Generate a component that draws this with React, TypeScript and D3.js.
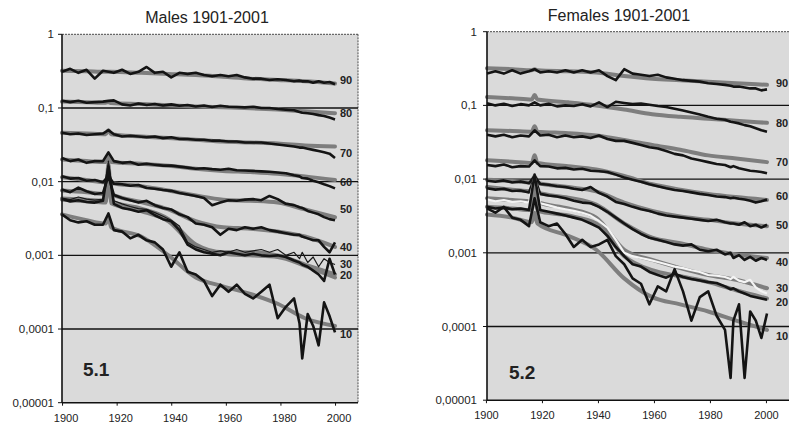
import React from "react";
import * as d3 from "d3";

// ---------- data ----------
const obsYears = [
  1901, 1904, 1907, 1910, 1913, 1916, 1918, 1920, 1923, 1926,
  1929, 1932, 1935, 1938, 1941, 1944, 1947, 1950, 1953, 1956,
  1959, 1962, 1965, 1968, 1971, 1974, 1977, 1980, 1983, 1986,
  1988, 1989, 1991, 1993, 1995, 1997, 1999, 2001,
];
const fitYears = [1901, 1910, 1917, 1918, 1919, 1930, 1940, 1950, 1960, 1970, 1980, 1990, 2001];
const ages = [90, 80, 70, 60, 50, 40, 30, 20, 10];
const yTickValues = [1, 0.1, 0.01, 0.001, 0.0001, 0.00001];
const yTickLabels = ["1", "0,1", "0,01", "0,001", "0,0001", "0,00001"];
const gridValues = [0.1, 0.01, 0.001, 0.0001];
const xTickYears = [1900, 1920, 1940, 1960, 1980, 2000];

// Males observed
const maleObs90 = [
  0.31, 0.34, 0.3, 0.33, 0.25, 0.32, 0.31, 0.3, 0.33, 0.29,
  0.31, 0.36, 0.3, 0.31, 0.26, 0.3, 0.29, 0.3, 0.28, 0.27,
  0.28, 0.27, 0.28, 0.26, 0.25, 0.25, 0.24, 0.245, 0.24, 0.23,
  0.235, 0.23, 0.23, 0.22, 0.23, 0.22, 0.225, 0.21,
];
const maleObs80 = [
  0.125, 0.12, 0.125, 0.118, 0.12, 0.122, 0.125, 0.127, 0.112, 0.108,
  0.115, 0.11, 0.113, 0.108, 0.112, 0.107, 0.11, 0.105, 0.108, 0.103,
  0.107, 0.104, 0.103, 0.102, 0.104, 0.1, 0.1, 0.097, 0.095, 0.093,
  0.088, 0.086, 0.085, 0.083, 0.08, 0.078, 0.074, 0.07,
];
const maleObs70 = [
  0.046, 0.044, 0.045, 0.043, 0.044, 0.045, 0.05, 0.044, 0.041, 0.042,
  0.041, 0.04, 0.041, 0.039, 0.04, 0.038, 0.038, 0.037, 0.037, 0.036,
  0.036, 0.035, 0.035, 0.034, 0.034, 0.034, 0.033, 0.032, 0.031, 0.03,
  0.029, 0.029, 0.028, 0.027, 0.026, 0.025, 0.024, 0.021,
];
const maleObs60 = [
  0.021, 0.019, 0.02, 0.018, 0.019, 0.019, 0.025, 0.019, 0.018, 0.0185,
  0.017, 0.0175, 0.017, 0.0165, 0.0165, 0.016, 0.0155, 0.015, 0.0152, 0.0148,
  0.0145, 0.015, 0.0143, 0.0142, 0.014, 0.0138, 0.0136, 0.0133, 0.013, 0.0122,
  0.0118, 0.0112, 0.011, 0.0103, 0.0098, 0.0092, 0.0087, 0.0081,
];
const maleObs50 = [
  0.0118, 0.011, 0.0112, 0.0103, 0.0105, 0.0098, 0.012, 0.0094, 0.0092, 0.0088,
  0.009, 0.0082, 0.008, 0.0077, 0.0075, 0.007, 0.0067, 0.0064, 0.006, 0.0048,
  0.0052, 0.0056, 0.0055, 0.0057, 0.0058, 0.0056, 0.0064, 0.0058, 0.005, 0.0048,
  0.0045, 0.0044, 0.004, 0.0038, 0.0036, 0.0033, 0.0031, 0.003,
];
const maleObs40 = [
  0.0078, 0.0072, 0.0083, 0.0074, 0.0068, 0.007, 0.012, 0.0066, 0.006, 0.0056,
  0.0052, 0.0055, 0.0048, 0.0044, 0.0042, 0.0036, 0.0033, 0.0027, 0.0026, 0.0024,
  0.0019, 0.0023, 0.0022, 0.0024, 0.0023, 0.0024, 0.0022, 0.0021, 0.002, 0.0019,
  0.0019, 0.0018, 0.0017, 0.0016, 0.0016, 0.0013, 0.0011, 0.0015,
];
const maleObs30 = [
  0.006, 0.0057, 0.0062, 0.0058, 0.0056, 0.0058, 0.019, 0.0055, 0.005, 0.0046,
  0.0043, 0.0042, 0.0038, 0.0034, 0.003, 0.0025, 0.0015, 0.0013, 0.0012, 0.0011,
  0.00115, 0.0011, 0.0012, 0.0011, 0.00115, 0.0012, 0.0011, 0.0012, 0.001, 0.0011,
  0.0009, 0.0011, 0.0008, 0.00095, 0.0007, 0.0009, 0.0008, 0.00075,
];
const maleObs20 = [
  0.0058, 0.0054, 0.0056, 0.0053, 0.0052, 0.0055, 0.016, 0.005, 0.0044, 0.0042,
  0.0039, 0.0041, 0.0035, 0.0031, 0.0029, 0.0022, 0.0014, 0.0012, 0.0011, 0.00105,
  0.001, 0.0011, 0.00105, 0.001, 0.00105, 0.001, 0.00098, 0.001, 0.00095, 0.00085,
  0.0008, 0.00075, 0.0007, 0.00062, 0.00055, 0.00045, 0.0009, 0.00055,
];
const maleObs10 = [
  0.0036, 0.003, 0.0028, 0.0029, 0.0026, 0.0026, 0.0037, 0.0022, 0.0021, 0.0017,
  0.0019, 0.0016, 0.0015, 0.0012, 0.0007, 0.0011, 0.0006, 0.00055, 0.00045, 0.00028,
  0.0004, 0.00032, 0.0004, 0.0003, 0.00026, 0.00032, 0.0004, 0.00014, 0.0002, 0.00026,
  0.00012, 0.00004, 0.00016, 0.00011, 0.00006, 0.00023, 0.00015, 0.00009,
];

// Males fitted
const maleFit90 = [0.32, 0.315, 0.31, 0.31, 0.31, 0.3, 0.29, 0.28, 0.265, 0.25, 0.24, 0.23, 0.215];
const maleFit80 = [0.122, 0.12, 0.118, 0.12, 0.117, 0.113, 0.109, 0.105, 0.102, 0.099, 0.095, 0.09, 0.085];
const maleFit70 = [0.046, 0.045, 0.044, 0.05, 0.044, 0.041, 0.039, 0.037, 0.035, 0.034, 0.033, 0.031, 0.03];
const maleFit60 = [0.02, 0.019, 0.0185, 0.023, 0.0185, 0.0175, 0.0165, 0.015, 0.014, 0.0135, 0.0128, 0.0118, 0.0105];
const maleFit50 = [0.0115, 0.0105, 0.0098, 0.011, 0.0096, 0.0087, 0.0076, 0.0065, 0.0057, 0.0055, 0.0052, 0.0042, 0.0033];
const maleFit40 = [0.0076, 0.0072, 0.0068, 0.011, 0.0068, 0.0053, 0.0042, 0.0029, 0.0024, 0.0023, 0.0021, 0.0018, 0.0013];
const maleFit30 = [0.0059, 0.0057, 0.0055, 0.017, 0.0054, 0.0043, 0.0031, 0.0014, 0.0011, 0.0011, 0.001, 0.00075, 0.00055];
const maleFit20 = [0.0057, 0.0054, 0.0052, 0.015, 0.0051, 0.004, 0.0029, 0.0013, 0.00105, 0.001, 0.00095, 0.00072, 0.0005];
const maleFit10 = [0.0036, 0.003, 0.0027, 0.0033, 0.0024, 0.0018, 0.001, 0.0005, 0.00038, 0.0003, 0.00022, 0.00014, 0.00011];

// Females observed
const femaleObs90 = [
  0.27, 0.29, 0.27, 0.3, 0.27, 0.29, 0.31, 0.28, 0.29, 0.28,
  0.3, 0.28, 0.3, 0.28, 0.3, 0.25, 0.22, 0.31, 0.27, 0.26,
  0.25, 0.26, 0.24, 0.23, 0.22, 0.215, 0.21, 0.2, 0.195, 0.19,
  0.185, 0.18, 0.18, 0.175, 0.17, 0.17, 0.16, 0.165,
];
const femaleObs80 = [
  0.107, 0.1, 0.105, 0.098, 0.104, 0.1, 0.11, 0.1, 0.105, 0.097,
  0.1, 0.098, 0.104, 0.097, 0.11, 0.095, 0.112, 0.108, 0.104, 0.106,
  0.102, 0.098, 0.095, 0.09, 0.085, 0.08, 0.075, 0.07, 0.066, 0.064,
  0.06, 0.059, 0.057, 0.054, 0.052, 0.049, 0.046, 0.044,
];
const femaleObs70 = [
  0.04, 0.038, 0.04, 0.037, 0.039, 0.038, 0.046, 0.039, 0.04, 0.037,
  0.039, 0.037, 0.038, 0.036, 0.039, 0.035, 0.033, 0.033, 0.031, 0.029,
  0.027, 0.026, 0.024, 0.022, 0.021, 0.019, 0.018, 0.017, 0.016, 0.0155,
  0.0145, 0.015, 0.014, 0.0135, 0.013, 0.0128, 0.0125, 0.012,
];
const femaleObs60 = [
  0.0155, 0.015, 0.0158, 0.0145, 0.015, 0.0148, 0.018, 0.015, 0.0148, 0.014,
  0.0142, 0.0135, 0.0138, 0.013, 0.0128, 0.0125, 0.0115, 0.0105, 0.0098, 0.0092,
  0.0085, 0.008, 0.0075, 0.0071, 0.0069, 0.0066, 0.0063, 0.0061, 0.0058, 0.0057,
  0.0055, 0.0056, 0.0054, 0.0053, 0.0051, 0.0048, 0.005, 0.0053,
];
const femaleObs50 = [
  0.0095, 0.0092, 0.0096, 0.009, 0.0093, 0.0088, 0.011, 0.0086, 0.0084, 0.008,
  0.0078, 0.0074, 0.0071, 0.0078, 0.0065, 0.0058, 0.0049, 0.0046, 0.0042, 0.0039,
  0.0037, 0.0034, 0.0032, 0.0031, 0.003, 0.0029, 0.0028, 0.0027, 0.0028, 0.0026,
  0.0025, 0.0025, 0.0024, 0.0026, 0.0023, 0.0024, 0.0022, 0.0024,
];
const femaleObs40 = [
  0.0075, 0.0072, 0.0074, 0.0069, 0.007, 0.0066, 0.0105, 0.0063, 0.006, 0.0058,
  0.0055, 0.0051, 0.0048, 0.0047, 0.0042, 0.0036, 0.003, 0.0025, 0.0021, 0.0018,
  0.0016, 0.0015, 0.0014, 0.0013, 0.00125, 0.0013, 0.0011, 0.00105, 0.0011, 0.00095,
  0.001, 0.00085, 0.00093, 0.0008, 0.00088, 0.00078, 0.00085, 0.0008,
];
const femaleObs30 = [
  0.0053, 0.005, 0.0052, 0.0049, 0.005, 0.0048, 0.011, 0.0047, 0.0044, 0.0041,
  0.0039, 0.0037, 0.0035, 0.0032, 0.0027, 0.0022, 0.0015, 0.001, 0.0009, 0.00085,
  0.0008, 0.00075, 0.0007, 0.00065, 0.00062, 0.00058, 0.00055, 0.0005, 0.00049, 0.00047,
  0.00044, 0.00047, 0.00042, 0.0004, 0.00043, 0.00034, 0.0003, 0.00028,
];
const femaleObs20 = [
  0.0042, 0.004, 0.0041, 0.0039, 0.004, 0.0038, 0.0115, 0.0038, 0.0036, 0.0034,
  0.0032, 0.003, 0.0028, 0.0025, 0.0022, 0.0017, 0.0012, 0.0009, 0.0007, 0.00065,
  0.00055, 0.0005, 0.00046, 0.00052, 0.00047, 0.00044, 0.00042, 0.0004, 0.00039, 0.00035,
  0.00032, 0.00033, 0.0003, 0.00028, 0.00026, 0.00025, 0.00024, 0.00023,
];
const femaleObs10 = [
  0.004, 0.0035, 0.0042, 0.003, 0.0028, 0.0023, 0.0055, 0.0026, 0.0023, 0.0025,
  0.0018, 0.0012, 0.0015, 0.0012, 0.0013, 0.0015, 0.0009, 0.0007, 0.00045, 0.00038,
  0.0002, 0.00035, 0.0003, 0.0006, 0.0003, 0.00012, 0.00025, 0.0003, 0.00014, 0.00009,
  0.00002, 0.00012, 0.0002, 0.00002, 0.00016, 0.00012, 0.00007, 0.00015,
];

// Females fitted
const femaleFit90 = [0.32, 0.31, 0.3, 0.31, 0.3, 0.29, 0.28, 0.25, 0.23, 0.22, 0.21, 0.2, 0.19];
const femaleFit80 = [0.13, 0.125, 0.12, 0.138, 0.12, 0.11, 0.1, 0.088, 0.076, 0.07, 0.066, 0.062, 0.058];
const femaleFit70 = [0.046, 0.045, 0.044, 0.052, 0.044, 0.042, 0.039, 0.034, 0.029, 0.025, 0.021, 0.019, 0.017];
const femaleFit60 = [0.018, 0.0172, 0.0165, 0.021, 0.0165, 0.015, 0.0135, 0.011, 0.0085, 0.0072, 0.0063, 0.0057, 0.0052];
const femaleFit50 = [0.0098, 0.0094, 0.009, 0.011, 0.0089, 0.0078, 0.0068, 0.0048, 0.0037, 0.0031, 0.0028, 0.0025, 0.0023];
const femaleFit40 = [0.0078, 0.0072, 0.0068, 0.0095, 0.0066, 0.0056, 0.0045, 0.0025, 0.0016, 0.00135, 0.0011, 0.00095, 0.00085];
const femaleFit30 = [0.0055, 0.0052, 0.005, 0.009, 0.0049, 0.004, 0.003, 0.0011, 0.0008, 0.00062, 0.0005, 0.00043, 0.00033];
const femaleFit20 = [0.0042, 0.004, 0.0038, 0.0075, 0.0037, 0.0032, 0.0025, 0.0009, 0.00058, 0.00048, 0.0004, 0.00031, 0.00024];
const femaleFit10 = [0.0033, 0.003, 0.0026, 0.0035, 0.0025, 0.0017, 0.0011, 0.00045, 0.00025, 0.0002, 0.00016, 0.00012, 0.00009];

const maleObs = [maleObs90, maleObs80, maleObs70, maleObs60, maleObs50, maleObs40, maleObs30, maleObs20, maleObs10];
const maleFit = [maleFit90, maleFit80, maleFit70, maleFit60, maleFit50, maleFit40, maleFit30, maleFit20, maleFit10];
const femaleObs = [femaleObs90, femaleObs80, femaleObs70, femaleObs60, femaleObs50, femaleObs40, femaleObs30, femaleObs20, femaleObs10];
const femaleFit = [femaleFit90, femaleFit80, femaleFit70, femaleFit60, femaleFit50, femaleFit40, femaleFit30, femaleFit20, femaleFit10];

// ---------- layout / style ----------
const FONT = "'Liberation Sans', Arial, Helvetica, sans-serif";

type PanelCfg = {
  title: string;
  titleX: number;
  titleY: number;
  tag: string;
  tagX: number;
  tagY: number;
  xRange: [number, number];
  plotLeft: number;
  plotRight: number;
  yTop: number;
  yBottom: number;
  tickLabelX: number;
  tickShift: number;
  labelShift: number;
  ageLabelX: number;
  ageLabelDy: number[];
  obs: number[][];
  fit: number[][];
  obsStyle: { color: string; width: number }[];
};

const blackStyle = { color: "#141414", width: 2.6 };

const panels: PanelCfg[] = [
  {
    title: "Males 1901-2001",
    titleX: 207,
    titleY: 22.5,
    tag: "5.1",
    tagX: 83,
    tagY: 376,
    xRange: [62, 335],
    plotLeft: 62,
    plotRight: 358,
    yTop: 34.3,
    yBottom: 402.7,
    tickLabelX: 54,
    tickShift: 1.2,
    labelShift: 2.5,
    ageLabelX: 340,
    ageLabelDy: [-3.5, 0, 6.5, 2, -8, 0, -10, -2.5, 8],
    obs: maleObs,
    fit: maleFit,
    obsStyle: [blackStyle, blackStyle, blackStyle, blackStyle, blackStyle, blackStyle,
      { color: "#1a1a1a", width: 1.2 }, blackStyle, blackStyle],
  },
  {
    title: "Females 1901-2001",
    titleX: 619,
    titleY: 21,
    tag: "5.2",
    tagX: 509,
    tagY: 379,
    xRange: [487, 767],
    plotLeft: 487,
    plotRight: 805,
    yTop: 31.7,
    yBottom: 400.2,
    tickLabelX: 477,
    tickShift: 0.8,
    labelShift: 0.8,
    ageLabelX: 776,
    ageLabelDy: [-2, 0, 0, -4, -1, 4, 0, 3.5, 6],
    obs: femaleObs,
    fit: femaleFit,
    obsStyle: [blackStyle, blackStyle, blackStyle, blackStyle, blackStyle, blackStyle,
      { color: "#f4f4f4", width: 2.2 }, blackStyle, blackStyle],
  },
];

function ChartPanel({ p }: { p: PanelCfg }) {
  const x = d3.scaleLinear().domain([1901, 2001]).range(p.xRange);
  const y = d3.scaleLog().domain([0.00001, 1]).range([p.yBottom, p.yTop]);
  const obsLine = d3
    .line<number>()
    .x((_, i) => x(obsYears[i]))
    .y((d) => y(d));
  const fitLine = d3
    .line<number>()
    .x((_, i) => x(fitYears[i]))
    .y((d) => y(d))
    .curve(d3.curveMonotoneX);
  const w = p.plotRight - p.plotLeft;
  return (
    <g>
      <rect x={p.plotLeft} y={p.yTop} width={w} height={p.yBottom - p.yTop} fill="#dadada" />
      {/* top & right border */}
      <line x1={p.plotLeft} x2={p.plotRight} y1={p.yTop} y2={p.yTop} stroke="#4a4a4a" strokeWidth={1} strokeDasharray="2 1" />
      <line x1={p.plotRight} x2={p.plotRight} y1={p.yTop} y2={p.yBottom} stroke="#4a4a4a" strokeWidth={1} strokeDasharray="2 1" />
      {/* gridlines */}
      {gridValues.map((v) => (
        <line key={v} x1={p.plotLeft} x2={p.plotRight} y1={y(v)} y2={y(v)} stroke="#111" strokeWidth={1.3} />
      ))}
      {/* fitted (grey) */}
      {p.fit.map((s, i) => (
        <path key={"f" + i} d={fitLine(s) || ""} fill="none" stroke="#7e7e7e" strokeWidth={4} strokeLinejoin="round" strokeLinecap="round" />
      ))}
      {/* observed */}
      {p.obs.map((s, i) => (
        <path key={"o" + i} d={obsLine(s) || ""} fill="none" stroke={p.obsStyle[i].color} strokeWidth={p.obsStyle[i].width} strokeLinejoin="round" />
      ))}
      {/* axes */}
      <line x1={p.plotLeft} x2={p.plotLeft} y1={p.yTop} y2={p.yBottom} stroke="#111" strokeWidth={1.6} />
      <line x1={p.plotLeft} x2={p.plotRight} y1={p.yBottom} y2={p.yBottom} stroke="#111" strokeWidth={1.6} />
      {yTickValues.map((v, i) => (
        <g key={"yt" + i}>
          <line x1={p.plotLeft - 4} x2={p.plotLeft} y1={y(v)} y2={y(v)} stroke="#111" strokeWidth={1} />
          <text x={p.tickLabelX} y={y(v)} dy="0.35em" textAnchor="end" fontSize={11.5} fontFamily={FONT} fill="#222">
            {yTickLabels[i]}
          </text>
        </g>
      ))}
      {xTickYears.map((yr) => (
        <g key={"xt" + yr}>
          <line x1={x(yr + p.tickShift)} x2={x(yr + p.tickShift)} y1={p.yBottom} y2={p.yBottom + 3} stroke="#111" strokeWidth={1} />
          <text x={x(yr + p.labelShift)} y={p.yBottom + 19} textAnchor="middle" fontSize={11} fontFamily={FONT} fill="#222">
            {yr}
          </text>
        </g>
      ))}
      {/* age labels */}
      {ages.map((a, i) => {
        const s = p.fit[i];
        return (
          <text key={"a" + a} x={p.ageLabelX} y={y(s[s.length - 1]) + p.ageLabelDy[i]} dy="0.35em" fontSize={11} fontWeight="bold" fontFamily={FONT} fill="#222">
            {a}
          </text>
        );
      })}
      <text x={p.titleX} y={p.titleY} textAnchor="middle" fontSize={16} fontFamily={FONT} fill="#222">
        {p.title}
      </text>
      <text x={p.tagX} y={p.tagY} fontSize={19} fontWeight="bold" fontFamily={FONT} fill="#222">
        {p.tag}
      </text>
    </g>
  );
}

export default function App() {
  return (
    <svg
      width={789}
      height={427}
      viewBox="0 0 789 427"
      style={{ position: "absolute", left: 0, top: 0, background: "#fff" }}
    >
      <rect width={789} height={427} fill="#fff" />
      {panels.map((p) => (
        <ChartPanel key={p.tag} p={p} />
      ))}
    </svg>
  );
}
